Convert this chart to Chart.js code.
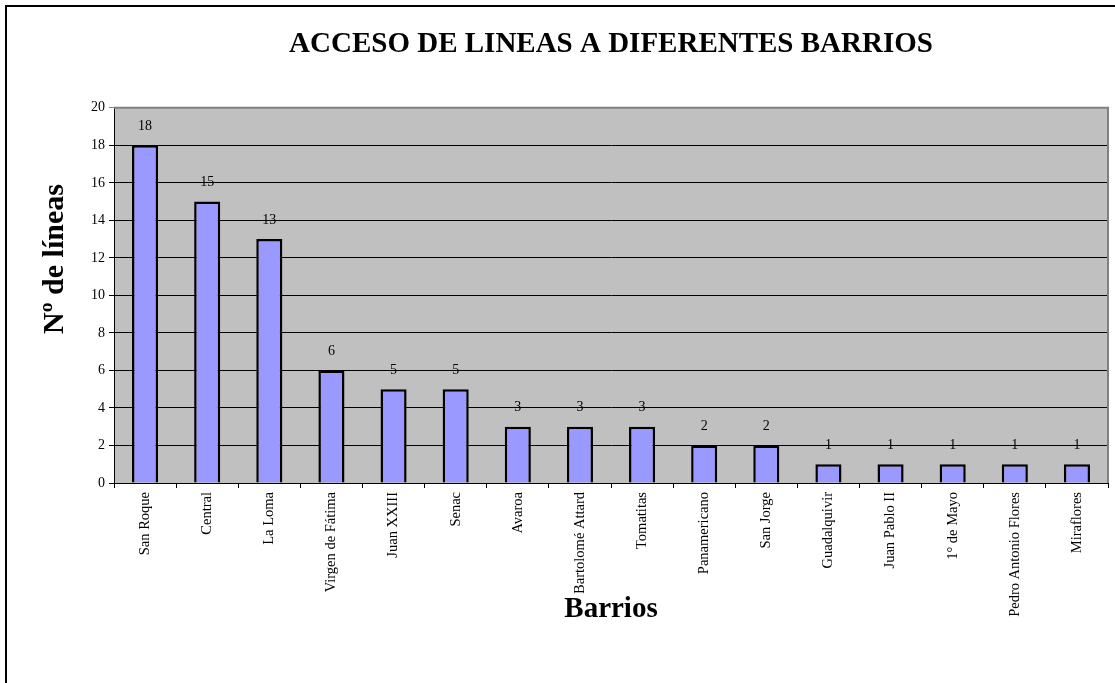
<!DOCTYPE html>
<html>
<head>
<meta charset="utf-8">
<script src="https://cdn.jsdelivr.net/npm/chart.js@4/dist/chart.umd.min.js"></script>
<style>
  html, body { margin: 0; padding: 0; background: #fff; overflow: hidden; }
  #frame { position: absolute; left: 5px; top: 5px; width: 2000px; height: 2000px;
           border-left: 2px solid #000; border-top: 2px solid #000; }
  #chart { position: absolute; left: 0; top: 0; }
</style>
</head>
<body>
<div id="frame"></div>
<canvas id="chart" width="1115" height="683"></canvas>
<script>
const barrios = ["San Roque", "Central", "La Loma", "Virgen de Fátima", "Juan XXIII", "Senac",
  "Avaroa", "Bartolomé Attard", "Tomatitas", "Panamericano", "San Jorge", "Guadalquivir",
  "Juan Pablo II", "1° de Mayo", "Pedro Antonio Flores", "Miraflores"];
const lineas = [18, 15, 13, 6, 5, 5, 3, 3, 3, 2, 2, 1, 1, 1, 1, 1];
const yTicks = [0, 2, 4, 6, 8, 10, 12, 14, 16, 18, 20];

const serif = "'Liberation Serif', 'Times New Roman', serif";

// gray plot background + gray right/top border
const plotArea = {
  id: "plotArea",
  beforeDraw(chart) {
    const { ctx, chartArea: a } = chart;
    ctx.save();
    ctx.fillStyle = "#c0c0c0";
    ctx.fillRect(a.left, a.top, a.right - a.left, a.bottom - a.top);
    ctx.restore();
  },
  beforeDatasetsDraw(chart) {
    const { ctx, chartArea: a } = chart;
    ctx.save();
    ctx.strokeStyle = "#808080";
    ctx.lineWidth = 2;
    ctx.beginPath();
    ctx.moveTo(a.left, a.top);
    ctx.lineTo(a.right, a.top);
    ctx.lineTo(a.right, a.bottom);
    ctx.stroke();
    ctx.restore();
  }
};

// value labels above the bars
const valueLabels = {
  id: "valueLabels",
  afterDatasetsDraw(chart) {
    const { ctx } = chart;
    const meta = chart.getDatasetMeta(0);
    ctx.save();
    ctx.font = "14px " + serif;
    ctx.fillStyle = "#000";
    ctx.textAlign = "center";
    ctx.textBaseline = "middle";
    meta.data.forEach((bar, i) => {
      ctx.fillText(String(lineas[i]), bar.x, bar.y - 19);
    });
    ctx.restore();
  }
};

// y axis title, placed like the original (not centred on the plot)
const yTitle = {
  id: "yTitle",
  afterDraw(chart) {
    const { ctx } = chart;
    ctx.save();
    ctx.translate(63, 259);
    ctx.rotate(-Math.PI / 2);
    ctx.font = "bold 30px " + serif;
    ctx.fillStyle = "#000";
    ctx.textAlign = "center";
    ctx.textBaseline = "alphabetic";
    ctx.fillText("Nº de líneas", 0, 0);
    ctx.restore();
  }
};

new Chart(document.getElementById("chart"), {
  type: "bar",
  data: {
    labels: barrios,
    datasets: [{
      data: lineas,
      backgroundColor: "#9999ff",
      borderColor: "#000",
      borderWidth: 2.5,
      barPercentage: 0.42,
      categoryPercentage: 1
    }]
  },
  options: {
    responsive: false,
    animation: false,
    devicePixelRatio: 1,
    layout: { padding: { left: 0, right: 7, top: 0, bottom: 0 } },
    plugins: {
      legend: { display: false },
      tooltip: { enabled: false },
      title: {
        display: true,
        fullSize: false,
        text: "ACCESO DE LINEAS A DIFERENTES BARRIOS",
        color: "#000",
        font: { family: serif, size: 29, weight: "bold", lineHeight: 1.2 },
        padding: { top: 27, bottom: 46 }
      }
    },
    scales: {
      x: {
        grid: { offset: true, drawOnChartArea: false, drawTicks: true, tickLength: 5, color: "#000" },
        border: { color: "#000", width: 1 },
        ticks: {
          autoSkip: false, minRotation: 90, maxRotation: 90, padding: 4,
          color: "#000", font: { family: serif, size: 14.5 }
        },
        title: {
          display: true, text: "Barrios", color: "#000",
          font: { family: serif, size: 29, weight: "bold", lineHeight: 1.2 },
          padding: { top: 0, bottom: 56 }
        },
        afterFit(scale) {
          scale.height = 200;
          scale.paddingLeft = 0;
          scale.paddingRight = 0;
        }
      },
      y: {
        min: 0,
        max: 20,
        afterBuildTicks(scale) {
          scale.ticks = yTicks.map(v => ({ value: v }));
        },
        grid: {
          color: ctx => (ctx.tick && ctx.tick.value === 20 ? "#808080" : "#000"),
          lineWidth: 1, tickLength: 5, drawTicks: true
        },
        border: { color: "#000", width: 1 },
        ticks: { padding: 4, color: "#000", font: { family: serif, size: 14 } },
        afterFit(scale) {
          scale.width = 114;
          scale.paddingTop = 0;
          scale.paddingBottom = 0;
        }
      }
    }
  },
  plugins: [plotArea, valueLabels, yTitle]
});
</script>
</body>
</html>
